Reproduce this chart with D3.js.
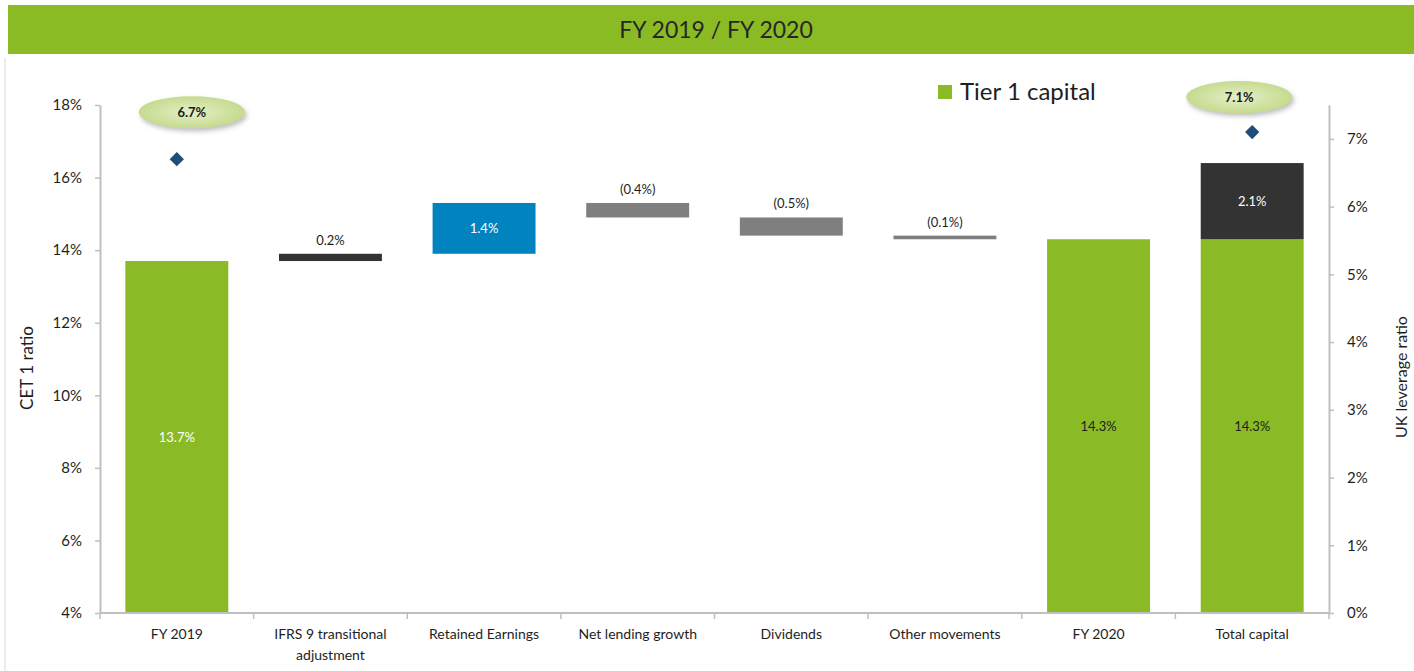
<!DOCTYPE html>
<html>
<head>
<meta charset="utf-8">
<script src="https://cdn.jsdelivr.net/npm/d3@7"></script>
<style>
  body { margin: 0; background: #fff; }
  svg { font-family: Lato, "Open Sans", sans-serif; display: block; }
</style>
</head>
<body>
<div class="chart"></div>
<script>
// Chart data
const categories = ["FY 2019", "IFRS 9 transitional adjustment", "Retained Earnings",
  "Net lending growth", "Dividends", "Other movements", "FY 2020", "Total capital"];
const startRatio = 13.7;                       // FY 2019 CET1
const movements = [0.2, 1.4, -0.4, -0.5, -0.1]; // bridge steps
const endRatio = 14.3;                         // FY 2020 CET1
const tier2 = 2.1;                             // on top in Total capital
const leverageCats = ["FY 2019", "Total capital"];
const leverage = [6.7, 7.1];
const leftTicks = [4, 6, 8, 10, 12, 14, 16, 18];
const rightTicks = [0, 1, 2, 3, 4, 5, 6, 7];

const W = 1414, H = 671;
const plot = {left: 100, right: 1329, top: 105, bottom: 613};

const green = "#8aba26", blue = "#0083bf", dark = "#333333", grey = "#7f7f7f";
const axisGrey = "#bfbfbf", textCol = "#1e1e1e";

const svg = d3.select(".chart").append("svg")
  .attr("width", W).attr("height", H);

// Title bar
svg.append("rect").attr("x", 8).attr("y", 5).attr("width", W - 8).attr("height", 49)
  .attr("fill", "#8abb25");
svg.append("text").attr("x", 716).attr("y", 38).attr("text-anchor", "middle")
  .attr("font-size", 23).attr("fill", "#262626").text("FY 2019 / FY 2020");

// faint panel edge
svg.append("line").attr("x1", 5).attr("x2", 5).attr("y1", 58).attr("y2", H)
  .attr("stroke", "#ececec").attr("stroke-width", 2);

// Scales
const x = d3.scaleBand().domain(categories).range([plot.left, plot.right])
  .paddingInner(0.33).paddingOuter(0.165);
const y = d3.scaleLinear().domain([4, 18]).range([plot.bottom, plot.top]);
const y2 = d3.scaleLinear().domain([0, 7.5]).range([plot.bottom, plot.top]);

// Build waterfall bars
const bars = [];
bars.push({cat: categories[0], lo: 4, hi: startRatio, fill: green, label: startRatio.toFixed(1) + "%", pos: "mid", lc: "#fff"});
let run = startRatio;
movements.forEach((m, i) => {
  const next = run + m;
  const cat = categories[i + 1];
  const fill = cat === "IFRS 9 transitional adjustment" ? dark : (m > 0 ? blue : grey);
  const txt = m < 0 ? "(" + Math.abs(m).toFixed(1) + "%)" : m.toFixed(1) + "%";
  bars.push({cat, lo: Math.min(run, next), hi: Math.max(run, next), fill, label: txt,
    pos: fill === blue ? "mid" : "above", lc: fill === blue ? "#fff" : textCol});
  run = next;
});
bars.push({cat: "FY 2020", lo: 4, hi: endRatio, fill: green, label: endRatio.toFixed(1) + "%", pos: "mid", lc: textCol});
bars.push({cat: "Total capital", lo: 4, hi: endRatio, fill: green, label: endRatio.toFixed(1) + "%", pos: "mid", lc: textCol});
bars.push({cat: "Total capital", lo: endRatio, hi: endRatio + tier2, fill: dark, label: tier2.toFixed(1) + "%", pos: "mid", lc: "#fff"});

const g = svg.append("g");
g.selectAll("rect.bar").data(bars).enter().append("rect")
  .attr("class", "bar")
  .attr("x", d => x(d.cat))
  .attr("width", x.bandwidth())
  .attr("y", d => y(d.hi))
  .attr("height", d => y(d.lo) - y(d.hi))
  .attr("fill", d => d.fill);

g.selectAll("text.blabel").data(bars).enter().append("text")
  .attr("class", "blabel")
  .attr("x", d => x(d.cat) + x.bandwidth() / 2)
  .attr("y", d => d.pos === "mid" ? (y(d.lo) + y(d.hi)) / 2 + 5 : y(d.hi) - 9)
  .attr("text-anchor", "middle")
  .attr("font-size", 13)
  .attr("fill", d => d.lc)
  .text(d => d.label);

// Axes
const leftAxis = d3.axisLeft(y).tickValues(leftTicks).tickFormat(d => d + "%")
  .tickSize(5).tickSizeOuter(0).tickPadding(13);
const la = svg.append("g").attr("transform", `translate(${plot.left},0)`).call(leftAxis);

const rightAxis = d3.axisRight(y2).tickValues(rightTicks).tickFormat(d => d + "%")
  .tickSize(5).tickSizeOuter(0).tickPadding(13);
const ra = svg.append("g").attr("transform", `translate(${plot.right},0)`).call(rightAxis);

[la, ra].forEach(a => {
  a.select(".domain").attr("stroke", axisGrey).attr("stroke-width", 2);
  a.selectAll(".tick line").attr("stroke", axisGrey).attr("stroke-width", 1.5);
  a.selectAll(".tick text").attr("font-size", 15).attr("fill", textCol)
    .attr("font-family", "Lato, 'Open Sans', sans-serif");
});

// bottom axis: line + ticks at category boundaries
svg.append("line").attr("x1", plot.left).attr("x2", plot.right)
  .attr("y1", plot.bottom).attr("y2", plot.bottom)
  .attr("stroke", axisGrey).attr("stroke-width", 2);
const gap = (x.step() - x.bandwidth()) / 2;
const bounds = categories.map(c => x(c) - gap).concat([plot.right]);
svg.selectAll("line.xtick").data(bounds).enter().append("line")
  .attr("class", "xtick")
  .attr("x1", d => d).attr("x2", d => d)
  .attr("y1", plot.bottom).attr("y2", plot.bottom + 6)
  .attr("stroke", axisGrey).attr("stroke-width", 1.5);

const labelLines = {"IFRS 9 transitional adjustment": ["IFRS 9 transitional", "adjustment"]};
const xl = svg.selectAll("text.xlab").data(categories).enter().append("text")
  .attr("class", "xlab")
  .attr("x", d => x(d) + x.bandwidth() / 2)
  .attr("y", 639)
  .attr("text-anchor", "middle")
  .attr("font-size", 14)
  .attr("fill", textCol);
xl.each(function(d) {
  const lines = labelLines[d] || [d];
  d3.select(this).selectAll("tspan").data(lines).enter().append("tspan")
    .attr("x", x(d) + x.bandwidth() / 2)
    .attr("dy", (l, i) => i === 0 ? 0 : 21)
    .text(l => l);
});

// Axis titles
svg.append("text").attr("transform", "translate(33,368) rotate(-90)")
  .attr("text-anchor", "middle").attr("font-size", 17).attr("fill", textCol)
  .text("CET 1 ratio");
svg.append("text").attr("transform", "translate(1407,377) rotate(-90)")
  .attr("text-anchor", "middle").attr("font-size", 16).attr("fill", textCol)
  .text("UK leverage ratio");

// Legend
svg.append("rect").attr("x", 938).attr("y", 85).attr("width", 14).attr("height", 14).attr("fill", green);
svg.append("text").attr("x", 960).attr("y", 100).attr("font-size", 24).attr("fill", textCol)
  .text("Tier 1 capital");

// Leverage diamonds and callouts
const defs = svg.append("defs");
const rg = defs.append("radialGradient").attr("id", "callout");
rg.append("stop").attr("offset", "0%").attr("stop-color", "#e4efc8");
rg.append("stop").attr("offset", "100%").attr("stop-color", "#c6db8e");
const sh = defs.append("filter").attr("id", "shadow").attr("x", "-30%").attr("y", "-30%")
  .attr("width", "160%").attr("height", "180%");
sh.append("feDropShadow").attr("dx", 2).attr("dy", 3).attr("stdDeviation", 2.5)
  .attr("flood-color", "#888").attr("flood-opacity", 0.55);

const lev = leverageCats.map((c, i) => ({cat: c, v: leverage[i]}));
const calloutOffset = {"FY 2019": [15, -47], "Total capital": [-13, -35]};

svg.selectAll("path.diamond").data(lev).enter().append("path")
  .attr("class", "diamond")
  .attr("d", d3.symbol(d3.symbolDiamond2, 130))
  .attr("transform", d => `translate(${x(d.cat) + x.bandwidth() / 2},${y2(d.v)})`)
  .attr("fill", "#1f4e79");

const co = svg.selectAll("g.callout").data(lev).enter().append("g")
  .attr("class", "callout")
  .attr("transform", d => {
    const o = calloutOffset[d.cat];
    return `translate(${x(d.cat) + x.bandwidth() / 2 + o[0]},${y2(d.v) + o[1]})`;
  });
co.append("ellipse").attr("rx", 53).attr("ry", 16)
  .attr("fill", "url(#callout)").attr("filter", "url(#shadow)");
co.append("text").attr("y", 5).attr("text-anchor", "middle")
  .attr("font-size", 13).attr("font-weight", "bold").attr("fill", "#1a1a1a")
  .text(d => d.v.toFixed(1) + "%");
</script>
</body>
</html>
